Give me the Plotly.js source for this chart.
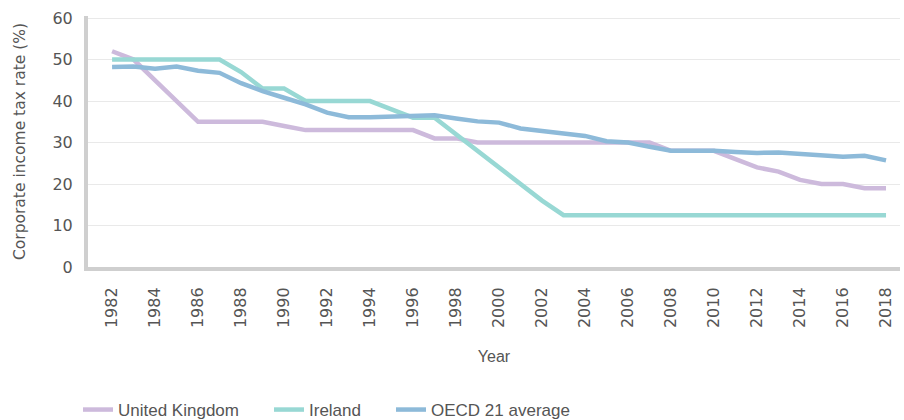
<!DOCTYPE html>
<html>
<head>
<meta charset="utf-8">
<script src="https://cdn.plot.ly/plotly-3.0.1.min.js"></script>
<style>html,body{margin:0;padding:0;background:#fff;}#chart{width:904px;height:420px;}</style>
</head>
<body>
<div id="chart"></div>
<script>
const years = [1982,1983,1984,1985,1986,1987,1988,1989,1990,1991,1992,1993,1994,1995,1996,1997,1998,1999,2000,2001,2002,2003,2004,2005,2006,2007,2008,2009,2010,2011,2012,2013,2014,2015,2016,2017,2018];
const ukRates = [52,50,45,40,35,35,35,35,34,33,33,33,33,33,33,31,31,30,30,30,30,30,30,30,30,30,28,28,28,26,24,23,21,20,20,19,19];
const irelandRates = [50,50,50,50,50,50,47,43,43,40,40,40,40,38,36,36,32,28,24,20,16,12.5,12.5,12.5,12.5,12.5,12.5,12.5,12.5,12.5,12.5,12.5,12.5,12.5,12.5,12.5,12.5];
const oecdRates = [48.2,48.3,47.8,48.3,47.3,46.8,44.3,42.4,40.8,39.2,37.2,36.1,36.1,36.3,36.4,36.6,35.8,35.1,34.8,33.4,32.8,32.2,31.6,30.3,30.0,29.0,28.0,28.0,28.0,27.7,27.5,27.6,27.3,27.1,26.6,26.8,25.7];
const seriesNames = ["United Kingdom","Ireland","OECD 21 average"];
const seriesColors = ["#cdbadc","#98d8d4","#8dbad9"];

const wideFont = "'DejaVu Sans', sans-serif";
const legendFont = "'Liberation Sans', sans-serif";
const legendIds = ["legend","legend2","legend3"];
const data = [ukRates, irelandRates, oecdRates].map((vals, i) => ({
  x: years, y: vals, type: "scatter", mode: "lines", name: seriesNames[i],
  legend: legendIds[i],
  line: {color: seriesColors[i], width: 4.5}
}));

const legendX = [78, 269, 391];
function mkLegend(px) {
  return {orientation: "h", x: px, xref: "container", xanchor: "left", y: 10 / 420, yref: "container", yanchor: "middle",
          font: {size: 17, color: "#555", family: legendFont}, bgcolor: "rgba(0,0,0,0)"};
}

const evenYears = years.filter(y => y % 2 === 0);
const layout = {
  width: 904, height: 420,
  margin: {l: 88, r: 4, t: 16, b: 153},
  paper_bgcolor: "#fff", plot_bgcolor: "#fff",
  font: {family: wideFont, color: "#555"},
  showlegend: true,
  legend: mkLegend(legendX[0] / 904),
  legend2: mkLegend(legendX[1] / 904),
  legend3: mkLegend(legendX[2] / 904),
  xaxis: {
    range: [1980.88, 2018.65], tickmode: "array", tickvals: evenYears,
    ticktext: evenYears.map(String),
    tickangle: -90, tickfont: {size: 16, color: "#555", family: wideFont},
    ticks: "outside", ticklen: 10, tickcolor: "rgba(0,0,0,0)",
    showgrid: false, zeroline: false,
    showline: true, linecolor: "#cfcfcf", linewidth: 4,
    title: {text: "Year", font: {size: 16, color: "#555", family: legendFont}, standoff: 25}
  },
  yaxis: {
    range: [0, 60.5], tickvals: [0,10,20,30,40,50,60],
    tickfont: {size: 16, color: "#555", family: wideFont},
    ticks: "outside", ticklen: 8, tickcolor: "rgba(0,0,0,0)",
    showgrid: true, gridcolor: "#e9e9e9", gridwidth: 1, zeroline: false,
    showline: true, linecolor: "#cfcfcf", linewidth: 4,
    title: {text: "Corporate income tax rate (%)", font: {size: 15.5, color: "#555", family: wideFont}, standoff: 24}
  }
};
Plotly.newPlot("chart", data, layout, {displayModeBar: false, staticPlot: true});
</script>
</body>
</html>
